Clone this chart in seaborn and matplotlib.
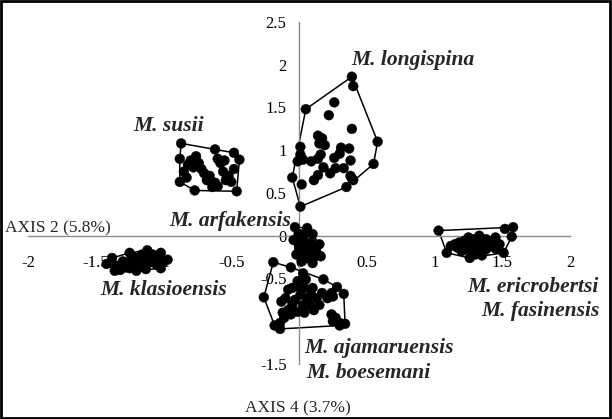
import numpy as np
import pandas as pd
import matplotlib
matplotlib.use("Agg")
import matplotlib.pyplot as plt
import seaborn as sns
from matplotlib.patches import Rectangle

# PCA scores (axis 2 vs axis 4)
longispina_x = [0.39, 0.40, 0.58, 0.55, 0.40, 0.35, 0.01, -0.05, 0.01, 0.05,
                0.26, 0.22, 0.39, 0.14, 0.17, 0.15, 0.19, 0.31, 0.37, 0.30,
                0.26, 0.16, 0.14, 0.09, 0.01, 0.03, -0.01, 0.18, 0.23, 0.27,
                0.33, 0.38, 0.14, 0.11, 0.38, 0.39, 0.02]
longispina_y = [1.86, 1.75, 1.10, 0.84, 0.65, 0.57, 0.34, 0.68, 1.04, 1.48,
                1.56, 1.41, 1.25, 1.17, 1.14, 1.08, 1.06, 1.03, 1.02, 0.96,
                0.91, 0.95, 0.90, 0.87, 0.95, 0.89, 0.87, 0.80, 0.73, 0.79,
                0.79, 0.88, 0.71, 0.65, 0.70, 0.67, 0.60]

susii_x = [-0.87, -0.62, -0.48, -0.44, -0.46, -0.77, -0.88, -0.88,
           -0.80, -0.82, -0.78, -0.74, -0.72, -0.70, -0.66, -0.68, -0.62,
           -0.60, -0.64, -0.58, -0.60, -0.55, -0.56, -0.52, -0.54, -0.50,
           -0.48, -0.85, -0.83, -0.76]
susii_y = [1.08, 1.01, 0.97, 0.89, 0.52, 0.53, 0.63, 0.90,
           0.88, 0.83, 0.80, 0.85, 0.78, 0.73, 0.70, 0.65, 0.62,
           0.58, 0.57, 0.85, 0.90, 0.88, 0.75, 0.70, 0.65, 0.63,
           0.78, 0.75, 0.68, 0.93]

klasioensis_x = [-1.42, -1.38, -1.25, -1.12, -1.02, -0.97, -1.02, -1.20, -1.36,
                 -1.35, -1.30, -1.28, -1.22, -1.20, -1.18, -1.15, -1.12, -1.10,
                 -1.08, -1.05, -1.05, -1.13, -1.25, -1.32, -1.26, -1.16, -1.00]
klasioensis_y = [-0.33, -0.26, -0.20, -0.17, -0.20, -0.28, -0.38, -0.41, -0.41,
                 -0.35, -0.30, -0.37, -0.25, -0.33, -0.29, -0.35, -0.25, -0.31,
                 -0.22, -0.28, -0.34, -0.39, -0.38, -0.40, -0.31, -0.22, -0.31]

arfakensis_x = [-0.03, 0.06, 0.10, 0.15, 0.16, 0.10, 0.02, -0.02, -0.04,
                0.00, 0.03, 0.05, 0.02, 0.06, 0.09, 0.12, 0.08, 0.04, 0.00,
                0.11, 0.06, 0.01, 0.13]
arfakensis_y = [0.10, 0.09, 0.02, -0.10, -0.24, -0.32, -0.30, -0.22, -0.05,
                0.02, -0.04, 0.03, -0.10, -0.13, -0.08, -0.16, -0.20, -0.18, -0.14,
                -0.25, -0.26, -0.22, -0.20]

ajamaruensis_x = [-0.19, -0.06, 0.18, 0.28, 0.33, 0.34, 0.30, -0.14, -0.18, -0.26,
                  0.03, 0.05, -0.01, -0.05, -0.08, 0.10, 0.04, 0.01, -0.10, -0.03,
                  0.06, 0.13, 0.17, 0.24, 0.25, 0.21, -0.05, 0.03, 0.08, 0.11,
                  -0.08, -0.12, -0.06, -0.01, 0.04, 0.24, 0.27, 0.30, 0.25, -0.11,
                  -0.14, 0.09, -0.01, 0.15, -0.13]
ajamaruensis_y = [-0.31, -0.37, -0.51, -0.60, -0.68, -1.03, -1.05, -1.09, -1.05, -0.72,
                  -0.44, -0.51, -0.53, -0.61, -0.63, -0.61, -0.61, -0.69, -0.73, -0.75,
                  -0.73, -0.73, -0.67, -0.67, -0.71, -0.73, -0.81, -0.81, -0.81, -0.87,
                  -0.87, -0.90, -0.92, -0.89, -0.90, -0.92, -0.96, -1.02, -1.00, -0.96,
                  -1.02, -0.69, -0.59, -0.81, -0.77]

ericrobertsi_x = [1.03, 1.52, 1.58, 1.57, 1.51, 1.35, 1.26, 1.09,
                  1.12, 1.15, 1.18, 1.20, 1.22, 1.25, 1.25, 1.28, 1.30, 1.32,
                  1.33, 1.35, 1.38, 1.40, 1.42, 1.45, 1.48, 1.22, 1.27, 1.32,
                  1.38, 1.30, 1.45, 1.20, 1.17]
ericrobertsi_y = [0.06, 0.08, 0.10, -0.01, -0.20, -0.23, -0.26, -0.20,
                  -0.12, -0.10, -0.08, -0.12, -0.06, -0.02, -0.10, -0.04, -0.12, -0.06,
                  0.00, -0.10, -0.04, -0.12, -0.07, -0.15, -0.10, -0.16, -0.18, -0.18,
                  -0.16, -0.22, -0.02, -0.18, -0.14]

groups = {
    "longispina": (longispina_x, longispina_y),
    "susii": (susii_x, susii_y),
    "klasioensis": (klasioensis_x, klasioensis_y),
    "arfakensis": (arfakensis_x, arfakensis_y),
    "ajamaruensis": (ajamaruensis_x, ajamaruensis_y),
    "ericrobertsi": (ericrobertsi_x, ericrobertsi_y),
}

frames = []
for name, (gx, gy) in groups.items():
    frames.append(pd.DataFrame({"axis2": gx, "axis4": gy, "group": name}))
df = pd.concat(frames, ignore_index=True)


def convex_hull(pts):
    pts = sorted(set(pts))
    def cross(o, a, b):
        return (a[0] - o[0]) * (b[1] - o[1]) - (a[1] - o[1]) * (b[0] - o[0])
    lower, upper = [], []
    for p in pts:
        while len(lower) >= 2 and cross(lower[-2], lower[-1], p) <= 0:
            lower.pop()
        lower.append(p)
    for p in reversed(pts):
        while len(upper) >= 2 and cross(upper[-2], upper[-1], p) <= 0:
            upper.pop()
        upper.append(p)
    return lower[:-1] + upper[:-1]


sns.set_style("white")
plt.rcParams["font.family"] = ["Liberation Serif", "DejaVu Serif"]

fig = plt.figure(figsize=(6.12, 4.19), dpi=100)
ax = fig.add_axes([0.0458, 0.1313, 0.8856, 0.8162])

# hull outlines
for name, (gx, gy) in groups.items():
    hull = convex_hull(list(zip(gx, gy)))
    hx = [p[0] for p in hull]
    hy = [p[1] for p in hull]
    ax.fill(hx, hy, fill=False, edgecolor="black", linewidth=1.1, zorder=2)

sns.scatterplot(data=df, x="axis2", y="axis4", hue="group",
                palette=["black"] * len(groups), s=50, edgecolor="black",
                linewidth=0.3, legend=False, ax=ax, zorder=3)

ax.set_xlim(-2, 2)
ax.set_ylim(-1.5, 2.5)
ax.set_xticks(np.arange(-2, 2.01, 0.5))
ax.set_yticks(np.arange(-1.5, 2.51, 0.5))
ax.set_xticklabels(["-2", "-1.5", "-1", "-0.5", "0", "0.5", "1", "1.5", "2"])
ax.set_yticklabels(["-1.5", "-1", "-0.5", "0", "0.5", "1", "1.5", "2", "2.5"])
ax.set_xlabel("")
ax.set_ylabel("")

for side in ["top", "right"]:
    ax.spines[side].set_visible(False)
for side in ["left", "bottom"]:
    ax.spines[side].set_position(("data", 0))
    ax.spines[side].set_color("#8c8c8c")
    ax.spines[side].set_linewidth(1.0)
ax.tick_params(axis="both", direction="out", length=4, color="#8c8c8c",
               labelsize=12, labelcolor="black")
ax.tick_params(axis="x", pad=10)
ax.tick_params(axis="y", pad=5)
ax.patch.set_alpha(0)

lab = dict(fontsize=15.5, fontweight="bold", fontstyle="italic",
           ha="center", va="center", clip_on=False)
ax.text(0.84, 2.05, "M. longispina", **lab)
ax.text(-0.96, 1.28, "M. susii", **lab)
ax.text(-0.51, 0.17, "M. arfakensis", **lab)
ax.text(-1.0, -0.63, "M. klasioensis", **lab)
ax.text(0.59, -1.31, "M. ajamaruensis", **lab)
ax.text(0.51, -1.60, "M. boesemani", **lab)
ax.text(1.73, -0.60, "M. ericrobertsi", **lab)
ax.text(1.78, -0.88, "M. fasinensis", **lab)

fig.text(0.095, 0.456, "AXIS 2 (5.8%)", fontsize=12.5, ha="center", va="center")
fig.text(0.487, 0.026, "AXIS 4 (3.7%)", fontsize=12.5, ha="center", va="center")

fig.add_artist(Rectangle((0.002, 0.003), 0.995, 0.994, transform=fig.transFigure,
                         fill=False, edgecolor="black", linewidth=2))

fig.savefig("out.png", dpi=100)
